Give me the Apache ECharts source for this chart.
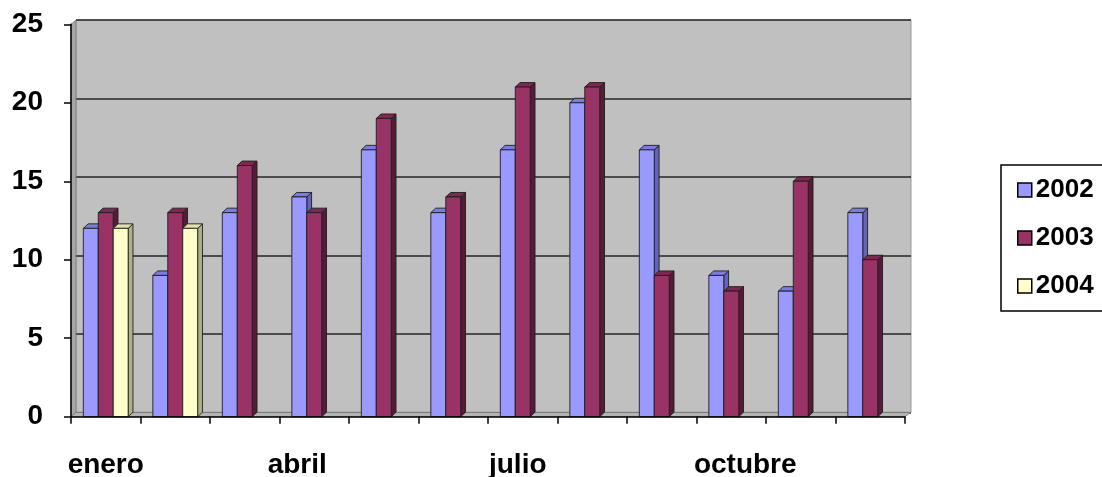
<!DOCTYPE html>
<html>
<head>
<meta charset="utf-8">
<script src="https://cdn.jsdelivr.net/npm/echarts@6/dist/echarts.min.js"></script>
<style>
  html, body { margin: 0; padding: 0; background: #fff; }
  #chart { width: 1102px; height: 477px; }
</style>
</head>
<body>
<div id="chart"></div>
<script>
// Monthly values per year
const months = ['enero', 'febrero', 'marzo', 'abril', 'mayo', 'junio',
                'julio', 'agosto', 'septiembre', 'octubre', 'noviembre', 'diciembre'];
const years = ['2002', '2003', '2004'];
const values2002 = [12, 9, 13, 14, 17, 13, 17, 20, 17, 9, 8, 13];
const values2003 = [13, 13, 16, 13, 19, 14, 21, 21, 9, 8, 15, 10];
const values2004 = [12, 12, null, null, null, null, null, null, null, null, null, null];
const yMin = 0, yMax = 25, yStep = 5;

// Face colours for each year's columns: front, top, side
const palette = [
  { front: '#9999FF', top: '#7b7be0', side: '#6464b8' },
  { front: '#993366', top: '#7d2852', side: '#561b39' },
  { front: '#FFFFCC', top: '#e2e2b0', side: '#b0b08a' }
];

// Layout of the front plane and the back wall
const front = { left: 71, top: 24.3, width: 834, height: 392.4 };
const depth = { dx: 5, dy: -4.3 };
const back = { left: front.left + depth.dx, top: front.top + depth.dy, width: front.width + 1, height: front.height };

// Horizontal nudges of the month labels (pixels, negative = left)
const labelShift = { abril: -17, julio: -5, octubre: 14 };

const fontFamily = 'Liberation Sans, Arial, sans-serif';
const labelFont = { color: '#000', fontFamily: fontFamily, fontWeight: 'bold' };

// Extruded column: front rectangle with top and right-side faces
function column3d(k) {
  const c = palette[k];
  return function (params, api) {
    const v = api.value(1);
    if (v == null || isNaN(v)) return;
    const i = api.value(0);
    const pTop = api.coord([i, v]);
    const pBase = api.coord([i, yMin]);
    const catW = api.size([1, 0])[0];
    const bw = catW * 0.215;
    const x0 = pTop[0] - 1.5 * bw + k * bw;
    const x1 = x0 + bw;
    const y0 = pTop[1], y1 = pBase[1];
    const dx = 4.8, dy = -4.5;
    const edge = { stroke: '#1e1e1e', lineWidth: 0.9 };
    return {
      type: 'group',
      children: [
        { type: 'polygon', shape: { points: [[x1, y0], [x1 + dx, y0 + dy], [x1 + dx, y1 + dy], [x1, y1]] },
          style: Object.assign({ fill: c.side }, edge) },
        { type: 'polygon', shape: { points: [[x0, y0], [x0 + dx, y0 + dy], [x1 + dx, y0 + dy], [x1, y0]] },
          style: Object.assign({ fill: c.top }, edge) },
        { type: 'rect', shape: { x: x0, y: y0, width: bw, height: y1 - y0 },
          style: Object.assign({ fill: c.front }, edge) }
      ]
    };
  };
}

// Rich-text styles that shift individual month labels
const monthRich = {};
months.forEach((m, i) => {
  const s = labelShift[m] || 0;
  monthRich['m' + i] = Object.assign({
    fontSize: 28,
    padding: s >= 0 ? [0, 0, 0, 2 * s] : [0, -2 * s, 0, 0]
  }, labelFont);
});

const seriesValues = [values2002, values2003, values2004];

const option = {
  animation: false,
  backgroundColor: '#fff',
  grid: [
    { left: back.left, top: back.top, width: back.width, height: back.height,
      outerBoundsMode: 'none', containLabel: false,
      show: true, backgroundColor: '#C0C0C0', borderColor: '#9a9a9a', borderWidth: 1 },
    { left: front.left, top: front.top, width: front.width, height: front.height,
      outerBoundsMode: 'none', containLabel: false }
  ],
  xAxis: [
    { type: 'category', gridIndex: 0, data: months, show: false },
    { type: 'category', gridIndex: 1, data: months, boundaryGap: true, z: 5,
      axisLine: { lineStyle: { color: '#000', width: 1.5 } },
      axisTick: { show: true, interval: 0, length: 7, lineStyle: { color: '#000', width: 1.5 } },
      axisLabel: Object.assign({
        interval: 2, fontSize: 28, margin: 35, rich: monthRich,
        formatter: (v) => '{m' + months.indexOf(v) + '|' + v + '}'
      }, labelFont),
      splitLine: { show: false } }
  ],
  yAxis: [
    { type: 'value', gridIndex: 0, min: yMin, max: yMax, interval: yStep,
      axisLine: { show: false }, axisTick: { show: false }, axisLabel: { show: false },
      splitLine: { show: true, lineStyle: { color: '#262626', width: 1.6 } } },
    { type: 'value', gridIndex: 1, min: yMin, max: yMax, interval: yStep, z: 5,
      axisLine: { show: true, lineStyle: { color: '#000', width: 1.5 } },
      axisTick: { show: true, length: 7, lineStyle: { color: '#000', width: 1.5 } },
      axisLabel: Object.assign({ fontSize: 28, margin: 28 }, labelFont),
      splitLine: { show: false } }
  ],
  legend: {
    orient: 'vertical', left: 1001, top: 165,
    padding: [12, 40, 12, 16],
    itemWidth: 14, itemHeight: 14, itemGap: 22,
    borderColor: '#000', borderWidth: 1.5, backgroundColor: '#fff',
    textStyle: Object.assign({ fontSize: 26, padding: [0, 0, 0, -1] }, labelFont),
    data: years.map((y, k) => ({ name: y, icon: 'rect',
      itemStyle: { color: palette[k].front, borderColor: '#000', borderWidth: 1.5 } }))
  },
  series: years.map((y, k) => ({
    name: y,
    type: 'custom',
    xAxisIndex: 1, yAxisIndex: 1,
    z: 3,
    itemStyle: { color: palette[k].front, borderColor: '#000', borderWidth: 1.5 },
    renderItem: column3d(k),
    encode: { x: 0, y: 1 },
    data: seriesValues[k].map((v, i) => [i, v])
  })),
  // Side wall and floor joining the front plane to the back wall
  graphic: [
    { type: 'polygon', z: 1, silent: true,
      shape: { points: [[front.left, front.top], [back.left, back.top],
                        [back.left, back.top + back.height], [front.left, front.top + front.height]] },
      style: { fill: '#a6a6a6', stroke: '#7a7a7a', lineWidth: 0.8 } },
    { type: 'polygon', z: 1, silent: true,
      shape: { points: [[front.left, front.top + front.height], [back.left, back.top + back.height],
                        [back.left + back.width, back.top + back.height],
                        [front.left + front.width, front.top + front.height]] },
      style: { fill: '#b4b4b4', stroke: '#7a7a7a', lineWidth: 0.8 } }
  ]
};

const chart = echarts.init(document.getElementById('chart'), null, { renderer: 'canvas' });
chart.setOption(option);
</script>
</body>
</html>
